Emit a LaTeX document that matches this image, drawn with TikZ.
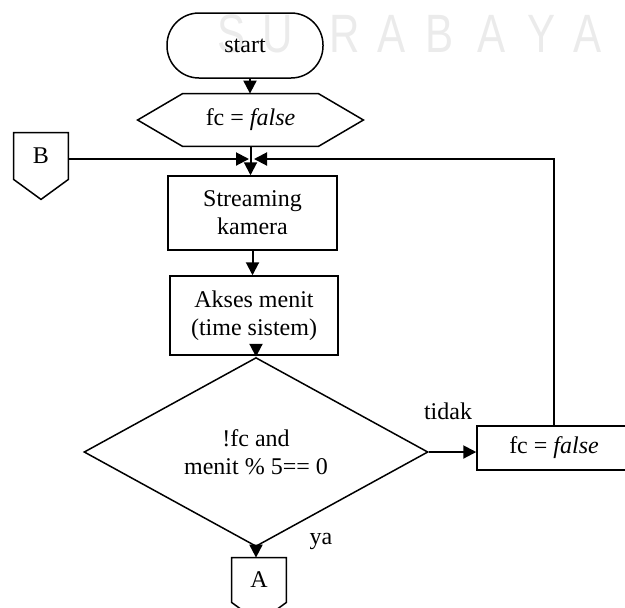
\documentclass[tikz,border=0pt]{standalone}
\usepackage{fontspec}
\setmainfont{Liberation Serif}
\newfontfamily\wmfont{Liberation Sans}
\usetikzlibrary{arrows.meta,shapes.geometric}
\begin{document}
\begin{tikzpicture}[x=0.5pt,y=-0.5pt,
  every node/.style={font=\fontsize{12}{14}\selectfont},
  shp/.style={line width=0.75pt},
  box/.style={draw,shp,inner sep=0pt,align=center},
  ghost/.style={inner sep=0pt,align=center},
  arr/.style={line width=1pt,-{Triangle[length=6.5pt,width=6.5pt]}},
  wm/.style={font=\wmfont\fontsize{27}{27}\selectfont,text=black!8,anchor=base,xscale=0.78,inner sep=0pt},
  lbl/.style={inner sep=0pt}
]
\useasboundingbox (0,0) rectangle (625,607);

% watermark lettering
\foreach \ch/\xx in {S/232,U/278,R/345,A/392,B/440,A/492,Y/542,A/588}
  \node[wm] at (\xx,52) {\ch};

% terminal
\node[box,rounded corners=16pt,minimum width=78pt,minimum height=32.5pt] (start) at (245,45.5) {start};

% preparation hexagon
\node[ghost,minimum width=112.5pt,minimum height=26pt] (hex) at (250.5,120) {fc = \textit{false}};
\draw[shp] (hex.west) -- ([xshift=22.5pt]hex.north west) -- ([xshift=-22.5pt]hex.north east)
  -- (hex.east) -- ([xshift=-22.5pt]hex.south east) -- ([xshift=22.5pt]hex.south west) -- cycle;

% off-page connector B
\node[ghost,minimum width=27pt,minimum height=23pt] (B) at (41,156) {B};
\draw[shp] (B.north west) -- (B.north east) -- (B.south east) -- ([yshift=-10pt]B.south)
  -- (B.south west) -- cycle;

% process boxes
\node[box,minimum width=84.5pt,minimum height=37pt] (stream) at (252.5,213) {Streaming\\kamera};
\node[box,minimum width=84pt,minimum height=39.5pt] (akses) at (254,315.5) {Akses menit\\(time sistem)};

% decision
\node[box,shape=diamond,minimum width=172pt,minimum height=65pt] (dia) at (256,452) {!fc and\\menit \% 5== 0};

% reset flag
\node[box,minimum width=77pt,minimum height=22pt] (fcbox) at (554,448) {fc = \textit{false}};

% off-page connector A
\node[ghost,minimum width=27pt,minimum height=22pt] (A) at (259,580) {A};
\draw[shp] (A.north west) -- (A.north east) -- (A.south east) -- ([yshift=-10pt]A.south)
  -- (A.south west) -- cycle;

% junction above the streaming box
\coordinate (jL) at (249,159);
\coordinate (jR) at (254,159);

% connectors
\draw[arr] ([xshift=2.5pt]start.south) -- ([xshift=2.5pt]start.south |- hex.north);
\draw[arr] (hex.south) -- (hex.south |- stream.north);
\draw[arr] (B.east |- jL) -- (jL);
\draw[arr] (fcbox.north) |- (jR);
\draw[arr] (stream.south) -- (stream.south |- akses.north);
\draw[arr] (akses.south -| dia.north) -- (dia.north);
\draw[arr] (dia.east) -- (dia.east -| fcbox.west);
\draw[arr] (dia.south) -- (dia.south |- A.north);

% branch labels
\node[lbl] (tidak) at (448,411) {tidak};
\node[lbl] (ya) at (321,541) {ya};
\end{tikzpicture}
\end{document}
